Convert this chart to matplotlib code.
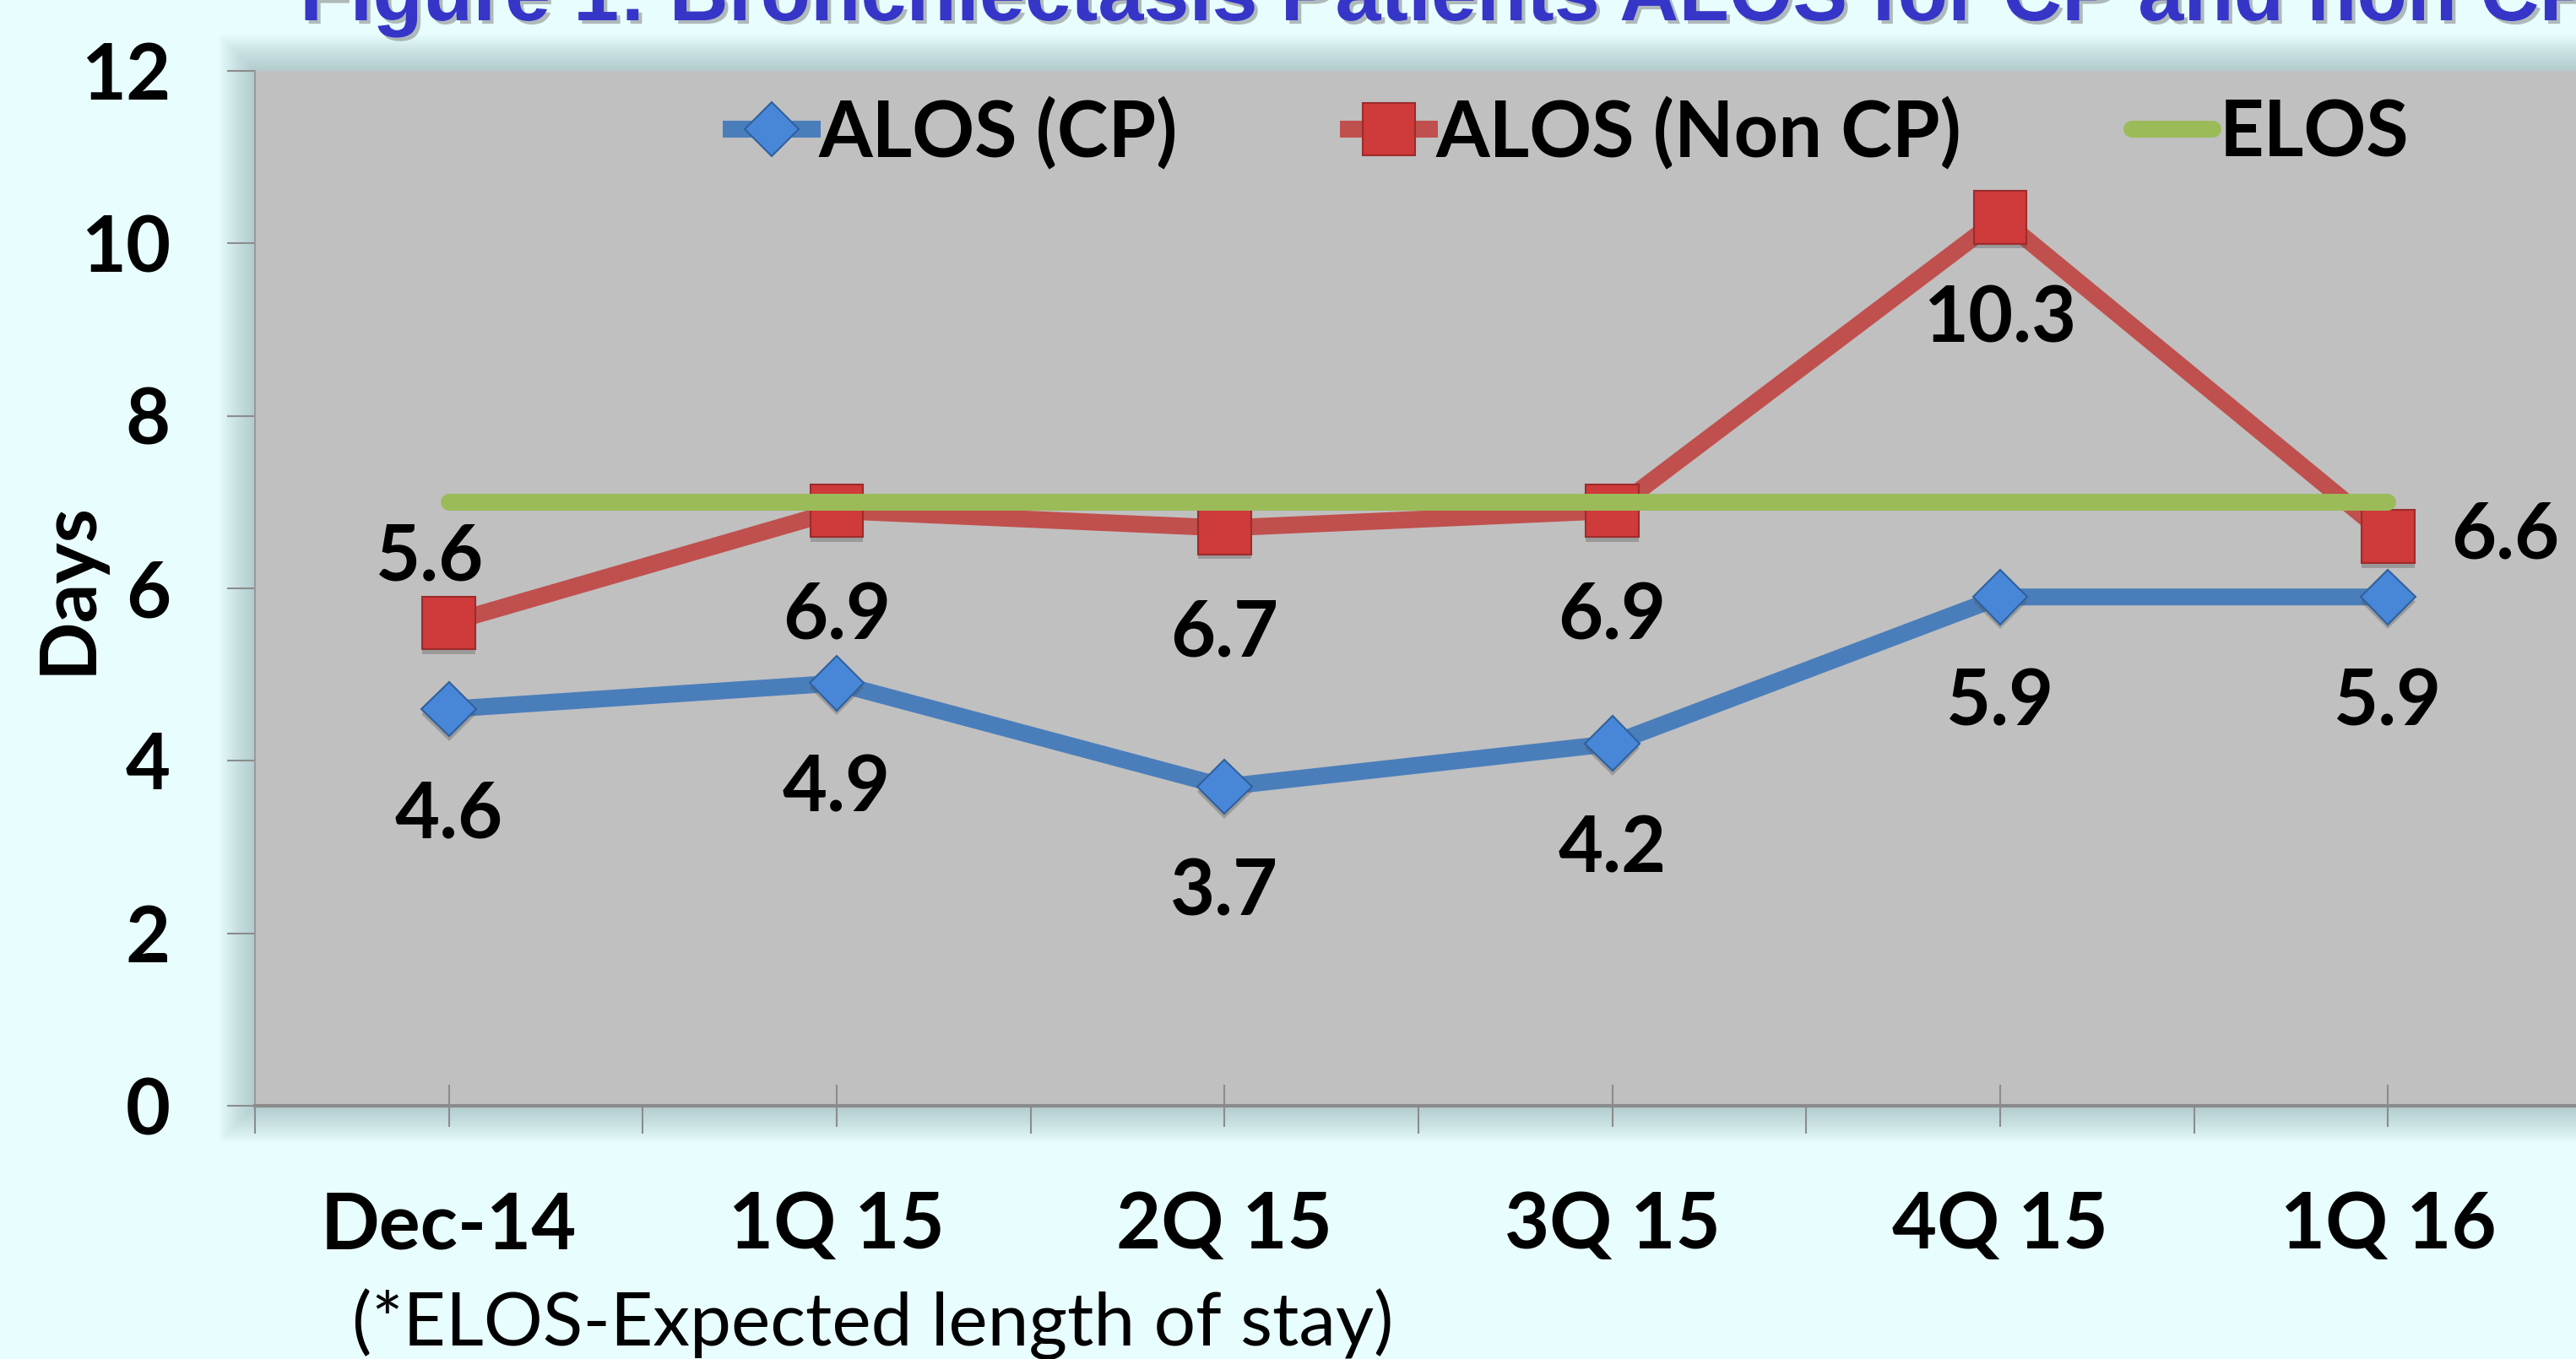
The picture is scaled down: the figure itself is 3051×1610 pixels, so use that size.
import matplotlib
matplotlib.use("Agg")
import matplotlib.pyplot as plt
import matplotlib.patheffects as pe
from matplotlib import font_manager
from matplotlib.lines import Line2D
from matplotlib.patches import Rectangle

# quarterly average length of stay, bronchiectasis patients
quarters = ["Dec-14", "1Q 15", "2Q 15", "3Q 15", "4Q 15", "1Q 16"]
alos_cp = [4.6, 4.9, 3.7, 4.2, 5.9, 5.9]
alos_non_cp = [5.6, 6.9, 6.7, 6.9, 10.3, 6.6]
elos = [7, 7, 7, 7, 7, 7]
yticks = [0, 2, 4, 6, 8, 10, 12]

title = "Figure 1: Bronchiectasis Patients ALOS for CP and non CP"
footnote = "(*ELOS-Expected length of stay)"

BLUE, RED, GREEN = "#4a7ebb", "#c0504d", "#9bbb59"
FS = 66
LW = 14.4
W, H = 3051, 1610

installed = {f.name for f in font_manager.fontManager.ttflist}
FONT = "Lato" if "Lato" in installed else "DejaVu Sans"
TITLE_FONT = "Liberation Sans Narrow" if "Liberation Sans Narrow" in installed else "Liberation Sans"
plt.rcParams["font.family"] = [FONT, "DejaVu Sans"]

fig = plt.figure(figsize=(W / 100, H / 100), dpi=100, facecolor="#e8fdfd")

# plot area in pixels: left, top, right, bottom
L, T, R, B = 302, 84, 3058, 1310
ax = fig.add_axes([L / W, 1 - B / H, (R - L) / W, (B - T) / H])
ax.set_facecolor("#c0c0c0")
ax.set_zorder(2)

# soft glow around the plot area
n = 14
for i in range(n):
    pad = 42 * (1 - i / n)
    fig.patches.append(Rectangle(((L - pad) / W, 1 - (B + pad) / H),
                                 (R - L + 2 * pad) / W, (B - T + 2 * pad) / H,
                                 transform=fig.transFigure, facecolor="#6f8f96",
                                 edgecolor="none", alpha=0.035, zorder=-5))

x = list(range(len(quarters)))
shadow = [pe.SimplePatchShadow(offset=(0, -4), shadow_rgbFace="#555555", alpha=0.35), pe.Normal()]

ax.plot(x, alos_cp, color=BLUE, lw=LW, solid_joinstyle="round", zorder=3)
ax.plot(x, alos_cp, ls="none", marker="D", ms=33, mfc="#4887d8", mec="#2f609e", mew=1.5,
        path_effects=shadow, zorder=4)
ax.plot(x, alos_non_cp, color=RED, lw=LW, solid_joinstyle="round", zorder=3)
ax.plot(x, alos_non_cp, ls="none", marker="s", ms=45, mfc="#cf3a3a", mec="#9e2b2b", mew=1.5,
        path_effects=shadow, zorder=4)
ax.plot(x, elos, color=GREEN, lw=LW, solid_capstyle="round", zorder=5)

# value labels
for i, v in enumerate(alos_cp):
    ax.annotate(f"{v}", (i, v), xytext=(0, -91), textcoords="offset points",
                ha="center", va="center", fontsize=FS, fontweight="bold", zorder=6)
noncp_offsets = [(-16, 55), (0, -91), (0, -91), (0, -91), (0, -88), (100, 0)]
for i, v in enumerate(alos_non_cp):
    ax.annotate(f"{v}", (i, v), xytext=noncp_offsets[i], textcoords="offset points",
                ha="center", va="center", fontsize=FS, fontweight="bold", zorder=6)

ax.set_xlim(-0.5, len(quarters) - 0.5)
ax.set_ylim(0, 12)
ax.set_yticks(yticks)
ax.set_yticklabels([str(t) for t in yticks], fontsize=FS, fontweight="bold")
ax.tick_params(axis="y", direction="out", length=24, width=1.5, color="#8c8c8c", pad=48)

ax.set_xticks([i - 0.5 for i in range(len(quarters) + 1)])
ax.set_xticklabels([])
ax.set_xticks(x, quarters, minor=True)
ax.tick_params(axis="x", which="major", direction="out", length=24, width=1.5, color="#8c8c8c")
ax.tick_params(axis="x", which="minor", direction="inout", length=36, width=1.5,
               color="#8c8c8c", pad=55, labelsize=FS)
for lab in ax.get_xticklabels(minor=True):
    lab.set_fontweight("bold")

for s in ["top", "right"]:
    ax.spines[s].set_visible(False)
ax.spines["left"].set_color("#9a9a9a")
ax.spines["left"].set_linewidth(1.5)
ax.spines["bottom"].set_color("#8a8a8a")
ax.spines["bottom"].set_linewidth(3)

handles = [
    Line2D([], [], color=BLUE, lw=LW, marker="D", ms=33, mfc="#4887d8", mec="#2f609e", mew=1.5),
    Line2D([], [], color=RED, lw=LW, marker="s", ms=45, mfc="#cf3a3a", mec="#9e2b2b", mew=1.5),
    Line2D([], [], color=GREEN, lw=LW, solid_capstyle="round"),
]
ax.legend(handles, ["ALOS (CP)", "ALOS (Non CP)", "ELOS"], loc="center left",
          bbox_to_anchor=(866 / W, 1 - 158 / H), bbox_transform=fig.transFigure,
          ncol=3, frameon=False, handlelength=1.05, handletextpad=0.08, columnspacing=2.2,
          borderpad=0, borderaxespad=0, prop={"size": FS, "weight": "bold"})

fig.text(82 / W, 1 - 697 / H, "Days", rotation=90, ha="center", va="center",
         fontsize=FS, fontweight="bold")
fig.text(1034 / W, 1 - 1594 / H, footnote, ha="center", va="baseline", fontsize=63)
fig.text(355 / W, 1 - 24 / H, title, ha="left", va="baseline", fontsize=70,
         fontweight="bold", color="#3535c8", family=[TITLE_FONT, "DejaVu Sans"],
         path_effects=[pe.withSimplePatchShadow(offset=(3, -3), shadow_rgbFace="#777777", alpha=0.5)])

fig.savefig("out.png", dpi=100, facecolor=fig.get_facecolor())
